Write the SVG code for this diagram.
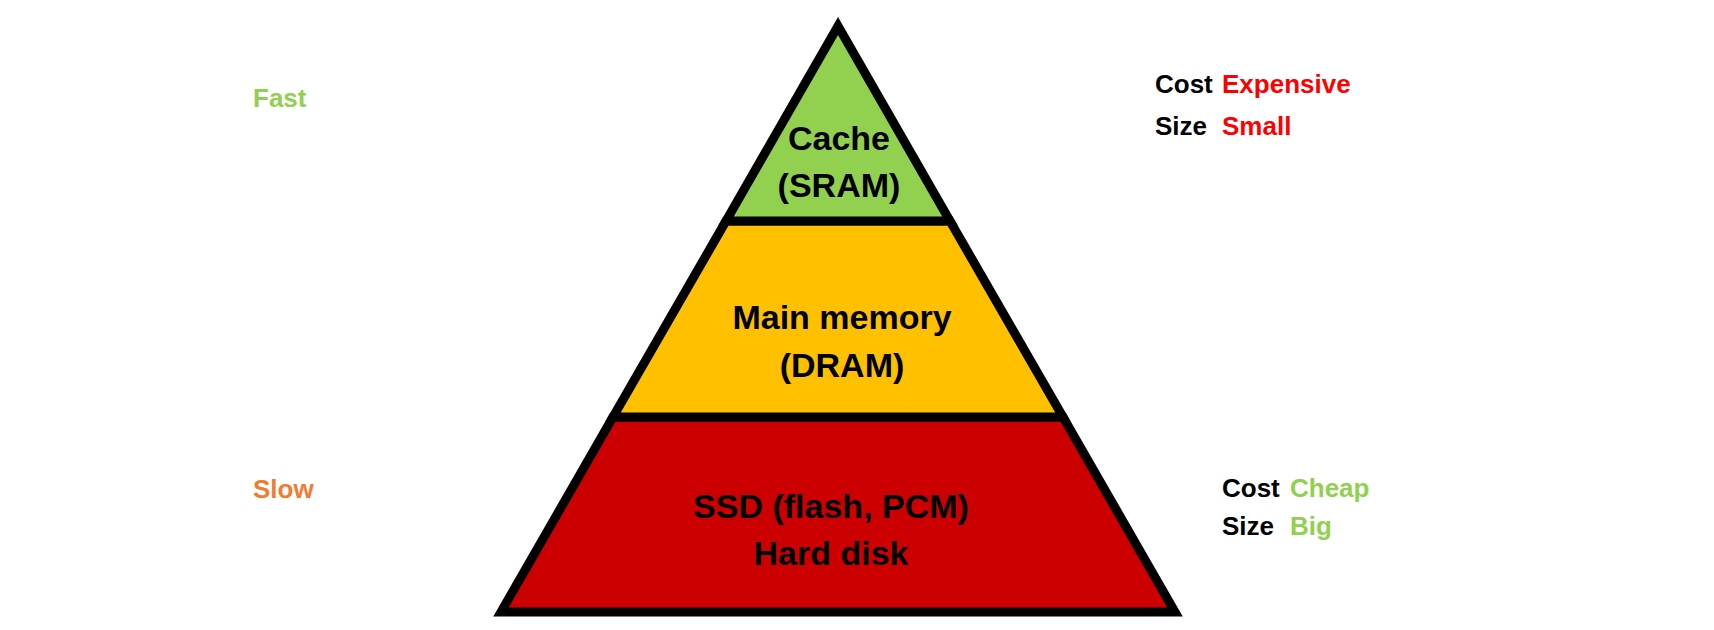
<svg xmlns="http://www.w3.org/2000/svg" width="1714" height="630" viewBox="0 0 1714 630">
<style>
.lvl{stroke:#000;stroke-width:9;stroke-linejoin:miter;stroke-miterlimit:10}
.t{font-family:"Liberation Sans",Arial,sans-serif;font-weight:bold}
.in{font-size:34px;fill:#000;text-anchor:middle}
.side{font-size:26px}
</style>
<rect width="1714" height="630" fill="#fff"/>
<g id="ssd">
<polygon class="lvl" points="613,417 1063,417 1175,612 501,612" fill="#CC0000"/>
<text class="t in" x="831" y="518">SSD (flash, PCM)</text>
<text class="t in" x="831" y="565">Hard disk</text>
</g>
<g id="dram">
<polygon class="lvl" points="726,221 950,221 1063,417 613,417" fill="#FFC000"/>
<text class="t in" x="842" y="329">Main memory</text>
<text class="t in" x="842" y="377">(DRAM)</text>
</g>
<g id="cache">
<polygon class="lvl" points="838,26 950,221 726,221" fill="#92D050"/>
<text class="t in" x="839" y="150">Cache</text>
<text class="t in" x="839" y="197">(SRAM)</text>
</g>
<g id="speed">
<text class="t side" x="253" y="107" fill="#92D050">Fast</text>
<text class="t side" x="253" y="498" fill="#ED7D31">Slow</text>
</g>
<g id="top-cost">
<text class="t side" x="1155" y="93" fill="#000">Cost</text>
<text class="t side" x="1222" y="93" fill="#FF0000">Expensive</text>
<text class="t side" x="1155" y="135" fill="#000">Size</text>
<text class="t side" x="1222" y="135" fill="#FF0000">Small</text>
</g>
<g id="bottom-cost">
<text class="t side" x="1222" y="497" fill="#000">Cost</text>
<text class="t side" x="1290" y="497" fill="#92D050">Cheap</text>
<text class="t side" x="1222" y="535" fill="#000">Size</text>
<text class="t side" x="1290" y="535" fill="#92D050">Big</text>
</g>
<g id="connectors"/>
</svg>
